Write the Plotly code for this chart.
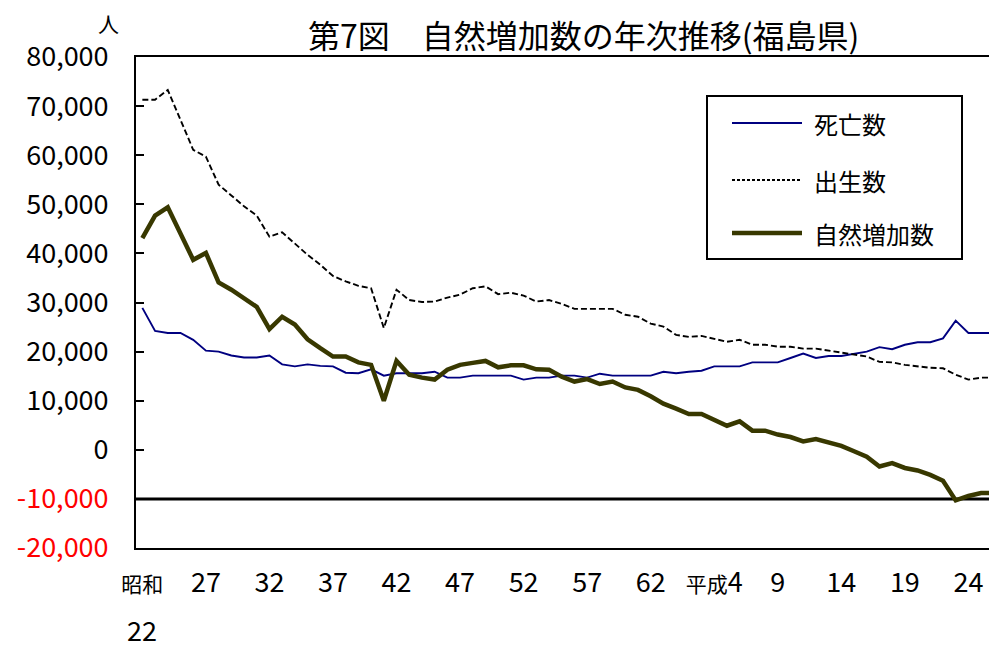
import plotly.graph_objects as go

# ---------------- data ----------------
years = list(range(1947, 2015))  # 昭和22 (1947) ... 平成26 (2014)

deaths = [28900, 24200, 23800, 23800, 22400, 20200, 20000, 19200, 18800, 18800,
          19200, 17400, 17000, 17400, 17100, 17000, 15700, 15600, 16400, 15100,
          15600, 15600, 15600, 15900, 14700, 14700, 15100, 15100, 15100, 15100,
          14300, 14700, 14700, 15100, 15100, 14700, 15500, 15100, 15100, 15100,
          15100, 15900, 15600, 15900, 16100, 17000, 17000, 17000, 17800, 17800,
          17800, 18700, 19600, 18700, 19100, 19100, 19600, 20000, 20900, 20500,
          21400, 21900, 21900, 22700, 26300, 23800, 23800, 23800]

births = [71300, 71300, 73300, 67200, 61100, 59700, 54000, 51800, 49600, 47700,
          43400, 44300, 42000, 39700, 37700, 35400, 34300, 33400, 32900, 24800,
          32600, 30500, 30100, 30200, 31000, 31600, 32900, 33300, 31700, 32000,
          31400, 30200, 30500, 29700, 28700, 28700, 28700, 28700, 27500, 27100,
          25700, 25100, 23400, 23000, 23200, 22600, 22000, 22400, 21400, 21400,
          21000, 21000, 20600, 20600, 20200, 19800, 19400, 19000, 17900, 17800,
          17300, 17000, 16700, 16600, 15300, 14300, 14700, 14700]

natural = [43100, 47700, 49400, 44100, 38700, 40100, 34100, 32600, 30900, 29100,
           24600, 27100, 25500, 22500, 20700, 19000, 19000, 17800, 17300, 10000,
           18100, 15300, 14700, 14300, 16300, 17300, 17700, 18100, 16800, 17200,
           17200, 16400, 16300, 14900, 13900, 14400, 13400, 13900, 12700, 12200,
           10900, 9400, 8400, 7300, 7300, 6200, 4900, 5800, 3900, 3900,
           3100, 2600, 1700, 2200, 1400, 800, -300, -1400, -3400, -2700,
           -3700, -4200, -5100, -6300, -10300, -9400, -8800, -8800]

series_names = ["死亡数", "出生数", "自然増加数"]

x_tick_years = [1947, 1952, 1957, 1962, 1967, 1972, 1977, 1982, 1987,
                1992, 1997, 2002, 2007, 2012]
x_tick_labels = ["<span style='font-size:21px'>昭和</span>", "27", "32", "37",
                 "42", "47", "52", "57", "62",
                 "<span style='font-size:21px'>平成</span>4", "9", "14", "19", "24"]
first_year_number = "22"   # second line of the first tick label (昭和 / 22)

y_tick_values = [-20000, -10000, 0, 10000, 20000, 30000, 40000, 50000, 60000,
                 70000, 80000]
y_tick_labels = ["<span style='color:#ff0000'>-20,000</span>",
                 "<span style='color:#ff0000'>-10,000</span>",
                 "0", "10,000", "20,000", "30,000", "40,000", "50,000",
                 "60,000", "70,000", "80,000"]

title_text = "第7図　自然増加数の年次推移(福島県)"
unit_text = "人"

# ---------------- styles ----------------
FONT = "Noto Sans CJK JP, sans-serif"
styles = [
    dict(color="#000080", width=1.9, dash="solid"),
    dict(color="#000000", width=1.9, dash="6px,3px"),
    dict(color="#383800", width=4.5, dash="solid"),
]
legend_dash = ["solid", "3px,2px", "solid"]

fig = go.Figure()
for name, vals, st in zip(series_names, [deaths, births, natural], styles):
    fig.add_trace(go.Scatter(x=years, y=vals, mode="lines", name=name,
                             line=dict(color=st["color"], width=st["width"],
                                       dash=st["dash"]),
                             showlegend=False, cliponaxis=True))

# page body adds an 8px offset; layout numbers below are in screen pixels
W, H, O = 997, 652, 8
L, R, T, B = 128, 8, 49, 112
pw, ph = W - L - R, H - T - B


def px_x(sx):
    return (sx - O - L) / pw


def px_y(sy):
    return (H - B - (sy - O)) / ph


# axis crossing line at -10,000
fig.add_shape(type="line", xref="paper", yref="y", x0=0, x1=1,
              y0=-10000, y1=-10000, line=dict(color="black", width=3),
              layer="below")

# legend box (drawn manually to match the reference key layout)
fig.add_shape(type="rect", xref="paper", yref="paper",
              x0=px_x(707), x1=px_x(962), y0=px_y(259), y1=px_y(96),
              line=dict(color="black", width=2), fillcolor="white")
legend_rows = [123, 180, 233]
for name, st, dsh, ry in zip(series_names, styles, legend_dash, legend_rows):
    fig.add_shape(type="line", xref="paper", yref="paper",
                  x0=px_x(732), x1=px_x(802), y0=px_y(ry), y1=px_y(ry),
                  line=dict(color=st["color"], width=st["width"], dash=dsh))
    fig.add_annotation(xref="paper", yref="paper", x=px_x(812), y=px_y(ry),
                       xanchor="left", yanchor="middle", text=name,
                       showarrow=False,
                       font=dict(family=FONT, size=24, color="black"))

# title at the very top of the page
fig.add_annotation(xref="paper", yref="paper", x=px_x(583), y=px_y(9),
                   xanchor="center", yanchor="top", text=title_text,
                   showarrow=False,
                   font=dict(family=FONT, size=32, color="black"))
# unit label
fig.add_annotation(xref="paper", yref="paper", x=px_x(108.5), y=px_y(23.5),
                   xanchor="center", yanchor="middle", text=unit_text,
                   showarrow=False, borderpad=0,
                   font=dict(family=FONT, size=21, color="black"))
# second line of the first category label
fig.add_annotation(xref="x", yref="paper", x=x_tick_years[0], y=px_y(629),
                   xanchor="center", yanchor="middle", text=first_year_number,
                   showarrow=False,
                   font=dict(family=FONT, size=27, color="black"))

fig.update_layout(
    width=W, height=H,
    margin=dict(l=L, r=R, t=T, b=B, pad=0, autoexpand=False),
    paper_bgcolor="white", plot_bgcolor="white",
    font=dict(family=FONT, size=27, color="black"),
    showlegend=False,
    xaxis=dict(range=[1946.5, 2014.25], showgrid=False, zeroline=False,
               automargin=False,
               showline=True, linecolor="black", linewidth=2, mirror=True,
               ticks="", tickmode="array", tickvals=x_tick_years,
               ticktext=x_tick_labels, tickfont=dict(size=27),
               ticklabelstandoff=10),
    yaxis=dict(range=[-20000, 80000], showgrid=False, zeroline=False,
               automargin=False,
               showline=True, linecolor="black", linewidth=2,
               ticks="inside", ticklen=8, tickwidth=2, tickcolor="black",
               tickmode="array", tickvals=y_tick_values,
               ticktext=y_tick_labels, tickfont=dict(size=27),
               ticklabelstandoff=20),
)

fig.write_html("out.html")
